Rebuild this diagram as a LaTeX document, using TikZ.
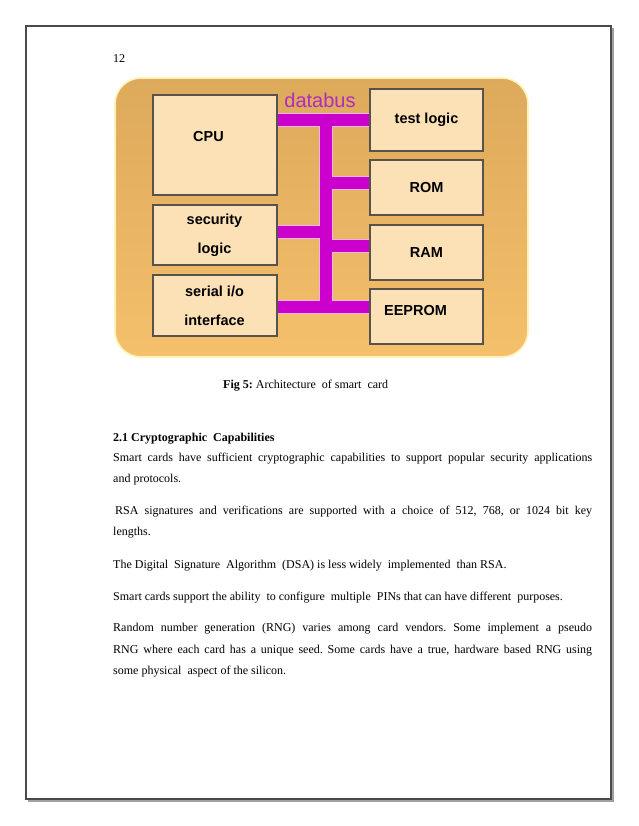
\documentclass[tikz,border=0pt]{standalone}
\usepackage{fontspec}
\setmainfont{Liberation Serif}
\newfontfamily\arialfont{Liberation Sans}
\usepackage{xcolor}
\usetikzlibrary{positioning, shadows}
\definecolor{cardtop}{HTML}{DDA95B}
\definecolor{cardbot}{HTML}{F5C06B}
\definecolor{cardglow}{HTML}{FFF2B8}
\definecolor{boxfill}{HTML}{FDE1B6}
\definecolor{boxedge}{HTML}{58524C}
\definecolor{busmag}{HTML}{CC00CC}
\definecolor{buspink}{HTML}{F6B4EA}
\definecolor{buslabelc}{HTML}{B22BC0}
\definecolor{frameedge}{HTML}{4A4A4A}
\definecolor{frameshade}{HTML}{A0A0A0}
\frenchspacing
\tikzset{
  card/.style    = {draw=cardglow, line width=1.6pt, rounded corners=26pt,
                    top color=cardtop, bottom color=cardbot,
                    minimum width=413pt, minimum height=279pt},
  unit/.style    = {draw=boxedge, line width=2pt, fill=boxfill, align=center,
                    font=\arialfont\bfseries\fontsize{14.5}{17}\selectfont,
                    drop shadow={shadow xshift=1.2pt, shadow yshift=-1.2pt,
                                 fill=black, opacity=0.3}},
  unitl/.style   = {unit, minimum width=124pt},
  unitr/.style   = {unit, minimum width=113pt, minimum height=55pt},
  bodyline/.style= {anchor=base west, inner sep=0pt,
                    font=\fontsize{12}{14}\selectfont},
  bw/.style      = {line width=#1, line cap=butt}
}
\newcommand{\jline}[1]{\makebox[479pt][s]{#1}}

\begin{document}
\begin{tikzpicture}[x=1pt, y=-1pt]
  \useasboundingbox (0,0) rectangle (638,826);
  % page frame
  \draw[frameshade, line width=1.2pt] (28,801) -- (613,801) -- (613,28);
  \draw[frameedge, line width=1.3pt] (26,26) rectangle (611,799);
  \node[bodyline] (pagenum) at (113,63) {12};

  % card
  \node[card] (card) at (321.5,217.5) {};

  % left column
  \node[unitl, minimum height=100pt, text depth=18pt] (cpu) at (214.5,145)
    {CPU\hspace*{12pt}};
  \node[unitl, minimum height=60pt, below=8pt of cpu] (seclogic)
    {security\\[12pt]logic};
  \node[unitl, minimum height=61pt, below=8pt of seclogic] (serialio)
    {serial i/o\\[12pt]interface};

  % right column
  \node[unitr, minimum height=62pt] (testlogic) at (426.5,120) {test logic};
  \node[unitr, below=7pt of testlogic] (rom) {ROM};
  \node[unitr, below=8pt of rom] (ram) {RAM};
  \node[unitr, below=7pt of ram, text depth=12pt] (eeprom)
    {EEPROM\hspace*{22pt}};

  % databus
  \coordinate (bustop) at (326,120);
  \coordinate (busbot) at (326,307);
  \foreach \w/\c in {14.2pt/buspink, 11.4pt/busmag} {
    \draw[bw=\w, \c] (cpu.east |- testlogic.west) -- (testlogic.west);
    \draw[bw=\w, \c] (bustop) -- (busbot);
    \draw[bw=\w, \c] (rom.west |- 0,183) -- (bustop |- 0,183);
    \draw[bw=\w, \c] (seclogic.east |- 0,232) -- (bustop |- 0,232);
    \draw[bw=\w, \c] (ram.west |- 0,246) -- (bustop |- 0,246);
    \draw[bw=\w, \c] (serialio.east |- busbot) -- (eeprom.west |- busbot);
  }
  \node[text=buslabelc, font=\arialfont\fontsize{20}{22}\selectfont,
        inner sep=0pt] (buslabel) at (320,100) {databus};

  % caption and body text
  \node[bodyline] (caption) at (223,388)
    {\textbf{Fig 5:} Architecture\ \ of smart\ \ card};
  \node[bodyline] (heading) at (113,441)
    {\textbf{2.1 Cryptographic\ \ Capabilities}};
  \node[bodyline] (para1a) at (113,461)
    {\jline{Smart cards have sufficient cryptographic capabilities to support popular security applications}};
  \node[bodyline] (para1b) at (113,482) {and protocols.};
  \node[bodyline] (para2a) at (115,514)
    {\makebox[477pt][s]{RSA signatures and verifications are supported with a choice of 512, 768, or 1024 bit key}};
  \node[bodyline] (para2b) at (113,535) {lengths.};
  \node[bodyline] (para3) at (113,568)
    {The Digital\ \ Signature\ \ Algorithm\ \ (DSA) is less widely\ \ implemented\ \ than RSA.};
  \node[bodyline] (para4) at (113,600)
    {Smart cards support the ability\ \ to configure\ \ multiple\ \ PINs that can have different\ \ purposes.};
  \node[bodyline] (para5a) at (113,631)
    {\jline{Random number generation (RNG) varies among card vendors. Some implement a pseudo}};
  \node[bodyline] (para5b) at (113,653)
    {\jline{RNG where each card has a unique seed. Some cards have a true, hardware based RNG using}};
  \node[bodyline] (para5c) at (113,674) {some physical\ \ aspect of the silicon.};
\end{tikzpicture}
\end{document}
